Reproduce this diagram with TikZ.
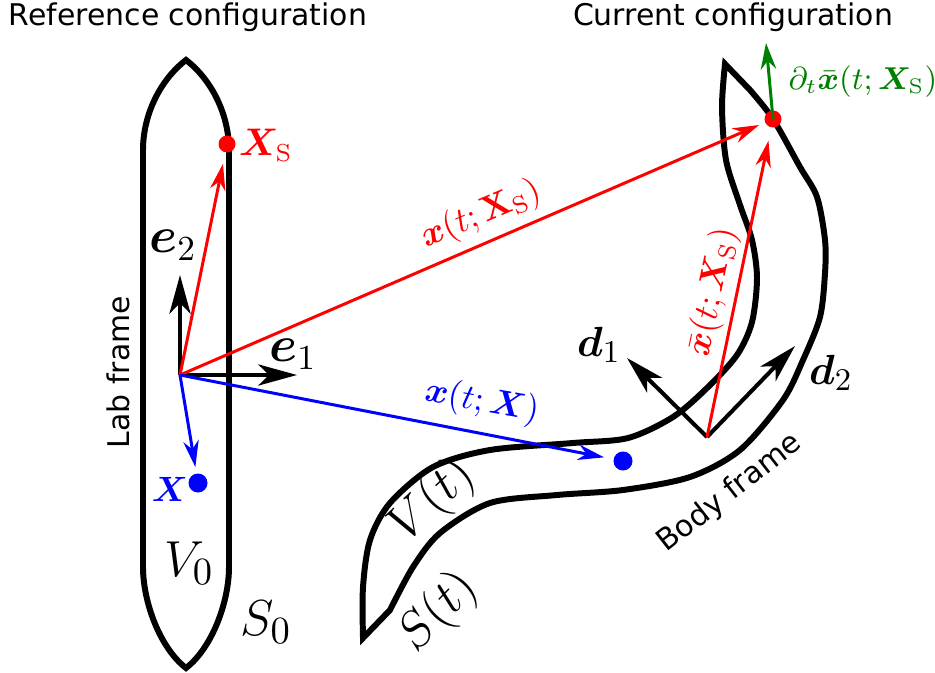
\documentclass[tikz,border=0pt]{standalone}
\usepackage{amsmath,amssymb,bm}
\usepackage[no-math]{fontspec}
\newfontfamily\labelfont{DejaVu Sans}
\usepackage{tikz}
\usetikzlibrary{arrows.meta}

\tikzset{
  body/.style={line width=1.7pt},
  axis/.style={line width=1.15pt, -{Stealth[length=11pt, width=6pt, inset=3pt]}},
  vec/.style={line width=0.85pt, -{Stealth[length=7.5pt, width=4.4pt, inset=2.4pt]}},
  dot/.style={circle, inner sep=0pt, minimum size=1.7mm},
  lbl/.style={font=\labelfont\fontsize{8.5}{10}\selectfont},
  mid/.style={font=\fontsize{10}{12}\selectfont, inner sep=0pt},
  big/.style={font=\fontsize{14}{16}\selectfont, inner sep=0pt},
  huge/.style={font=\fontsize{15}{17}\selectfont, inner sep=0pt},
}

\begin{document}
\begin{tikzpicture}[x=0.1mm, y=-0.1mm]
  \useasboundingbox (0,0) rectangle (935,672);
  % reference body
  \draw[body] (186,60) .. controls (160,80) and (143,115) .. (143,150) -- (143,567)
    .. controls (143,602) and (160,648) .. (186,668)
    .. controls (212,648) and (229,602) .. (229,567) -- (229,150)
    .. controls (229,115) and (212,80) .. cycle;
  % current body
  \draw[body] plot[smooth] coordinates {(725,64) (722,107) (726,160) (740,205) (752,240)
      (757,278) (752,322) (737,355) (707,388) (673,417) (628,438) (573,443) (490,450)
      (433,467) (390,503) (370,540) (363,587) (363,638)}
    -- plot[smooth] coordinates {(390,610) (413,567) (440,533) (490,503) (557,495)
      (623,490) (690,477) (740,450) (783,400) (803,360) (820,317) (825,273) (825,240)
      (817,197) (800,167) (773,119) (750,90)} -- cycle;

  \coordinate (O) at (180,375);
  \coordinate (B) at (707,437);
  \coordinate (e1) at (297,375);
  \coordinate (e2) at (180,275);
  \coordinate (d1) at (627,358);
  \coordinate (d2) at (795,346);
  \coordinate (v) at (766,43);
  \node[dot, fill=red] (XS) at (227,144) {};
  \node[dot, fill=blue, minimum size=1.9mm] (X) at (198,483) {};
  \node[dot, fill=blue, minimum size=1.9mm] (Xt) at (623,461) {};
  \node[dot, fill=red] (xS) at (773,119) {};

  \draw[axis] (O) -- (e1);
  \draw[axis] (O) -- (e2);
  \draw[axis] (B) -- (d1);
  \draw[axis] (B) -- (d2);
  \draw[vec, red, shorten >=1.1mm] (O) -- (XS);
  \draw[vec, blue, shorten >=0.6mm] (O) -- (X);
  \draw[vec, red, shorten >=0.6mm] (O) -- (xS);
  \draw[vec, blue, shorten >=0.9mm] (O) -- (Xt);
  \draw[vec, red, shorten >=1.3mm] (B) -- (xS);
  \draw[vec, green!50!black] (xS.center) -- (v);

  \node[lbl] (reftitle) at (188,17) {Reference configuration};
  \node[lbl] (curtitle) at (733,17) {Current configuration};
  \node[lbl, rotate=90] (labframe) at (118,372) {Lab frame};
  \node[lbl, rotate=38] (bodyframe) at (730,493) {Body frame};
  \node[big] (e1lbl) at (293,354) {$\bm{e}_1$};
  \node[big] (e2lbl) at (173,245) {$\bm{e}_2$};
  \node[mid, font=\fontsize{12.5}{14}\selectfont] (d1lbl) at (599,345) {$\bm{d}_1$};
  \node[mid, font=\fontsize{12.5}{14}\selectfont] (d2lbl) at (831,373) {$\bm{d}_2$};
  \node[mid, red, font=\fontsize{10.5}{12}\selectfont] (XSlbl) at (266,145) {$\bm{X}_{\mathrm{S}}$};
  \node[mid, blue] (Xlbl) at (170,489) {$\bm{X}$};
  \node[huge] (V0lbl) at (189,563) {$V_0$};
  \node[huge] (S0lbl) at (266,622) {$S_0$};
  \node[huge, font=\fontsize{13.5}{15}\selectfont, rotate=43] (Vtlbl) at (433,501) {$V(t)$};
  \node[huge, font=\fontsize{13.5}{15}\selectfont, rotate=46] (Stlbl) at (439,612) {$S(t)$};
  \node[mid, red, rotate=23] (xSlbl) at (481,215) {$\bm{x}(t;\mathbf{X}_{\mathrm{S}})$};
  \node[mid, blue, rotate=-10] (xlbl) at (482,402) {$\bm{x}(t;\bm{X})$};
  \node[mid, red, rotate=78] (xbarlbl) at (713,292) {$\bar{\bm{x}}(t;\bm{X}_{\mathrm{S}})$};
  \node[mid, green!50!black, anchor=west, font=\fontsize{9.2}{11}\selectfont] (vlbl) at (788,82) {$\partial_t\bar{\bm{x}}(t;\bm{X}_{\mathrm{S}})$};
\end{tikzpicture}
\end{document}
